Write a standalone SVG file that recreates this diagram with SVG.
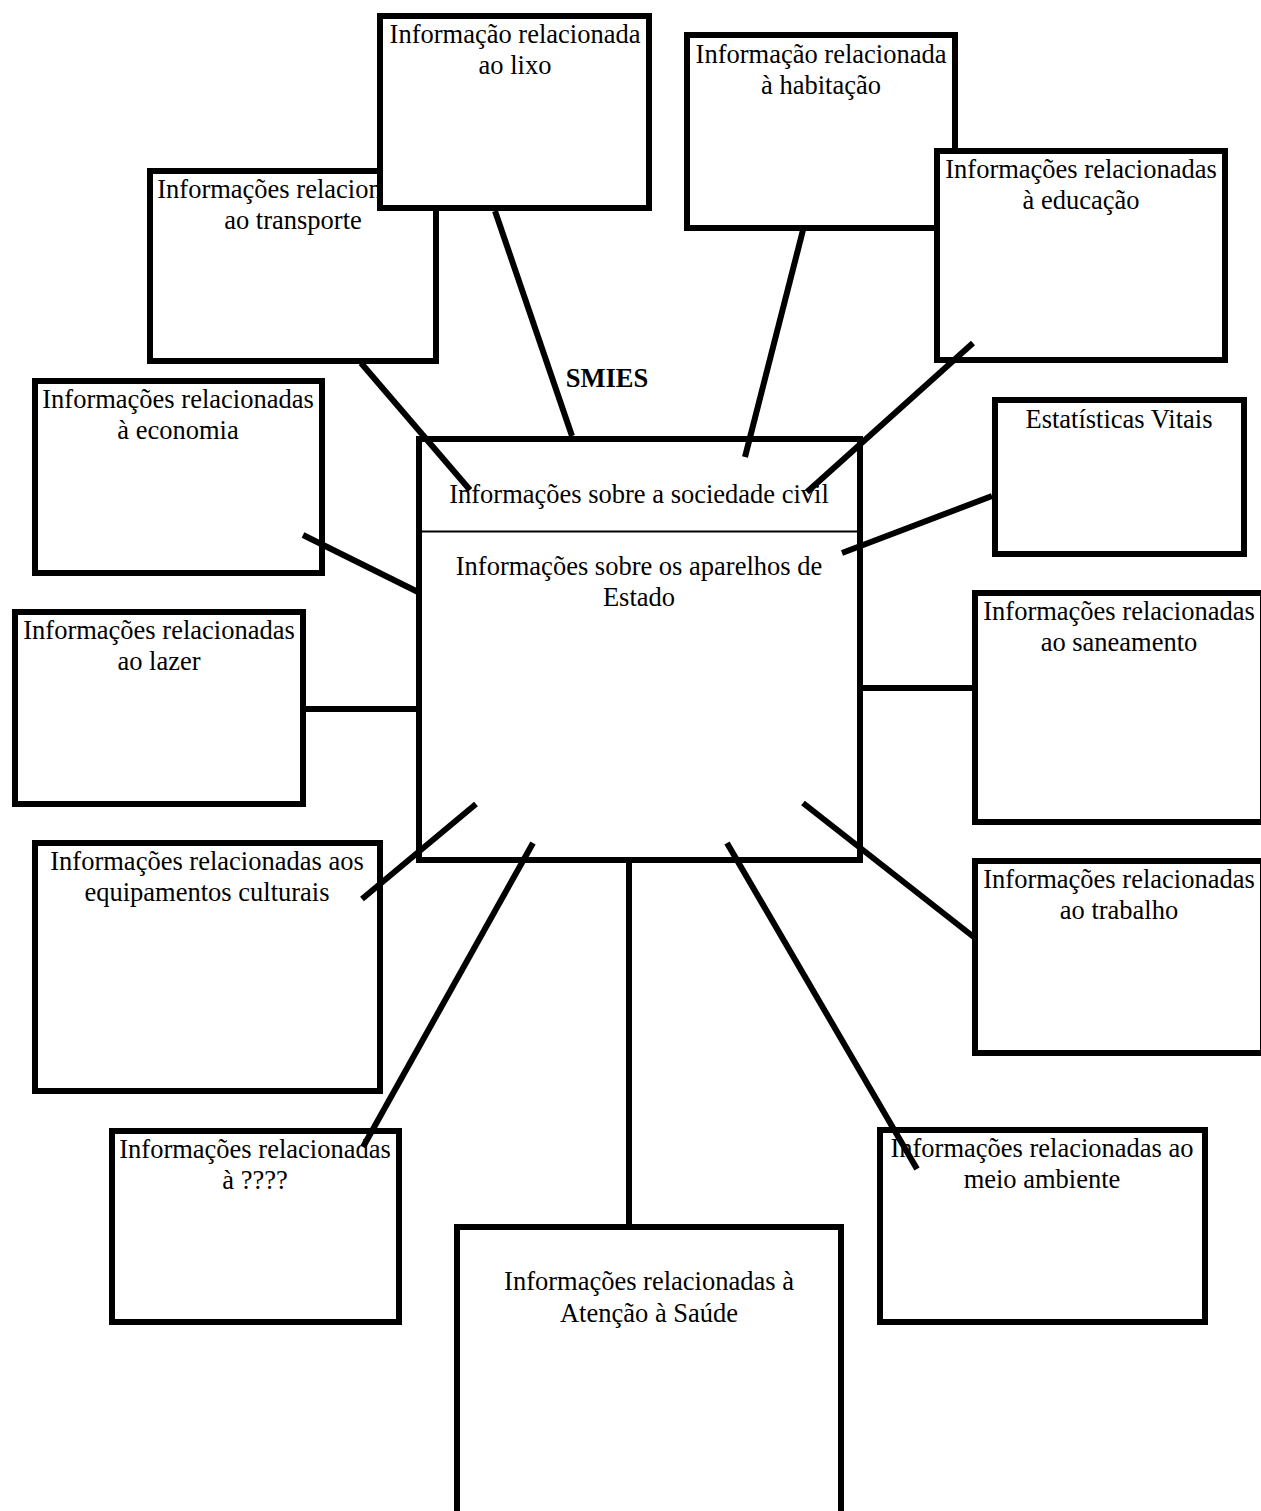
<svg xmlns="http://www.w3.org/2000/svg" width="1261" height="1511" viewBox="0 0 1261 1511">
<style>
.box{fill:#fff;stroke:#000;stroke-width:6}
.t{font-family:"Liberation Serif","Times New Roman",serif;font-size:26.5px;fill:#000;text-anchor:middle}
.b{font-weight:bold}
.c line{stroke:#000;stroke-width:6}
</style>
<rect width="1261" height="1511" fill="#fff"/>
<g id="n-transporte"><rect class="box" x="150" y="171" width="286" height="190"/><text class="t" x="293" y="198">Informações relacionadas</text><text class="t" x="293" y="229">ao transporte</text></g>
<g id="n-lixo"><rect class="box" x="380" y="16" width="269" height="192"/><text class="t" x="515" y="43">Informação relacionada</text><text class="t" x="515" y="74">ao lixo</text></g>
<g id="n-habitacao"><rect class="box" x="687" y="35" width="268" height="193"/><text class="t" x="821" y="63">Informação relacionada</text><text class="t" x="821" y="94">à habitação</text></g>
<g id="n-educacao"><rect class="box" x="937" y="151" width="288" height="209"/><text class="t" x="1081" y="178">Informações relacionadas</text><text class="t" x="1081" y="209">à educação</text></g>
<g id="n-economia"><rect class="box" x="35" y="381" width="287" height="192"/><text class="t" x="178" y="408">Informações relacionadas</text><text class="t" x="178" y="439">à economia</text></g>
<g id="n-lazer"><rect class="box" x="15" y="612" width="288" height="192"/><text class="t" x="159" y="639">Informações relacionadas</text><text class="t" x="159" y="670">ao lazer</text></g>
<g id="n-estatisticas"><rect class="box" x="995" y="400" width="249" height="154"/><text class="t" x="1119" y="428">Estatísticas Vitais</text></g>
<g id="n-saneamento"><rect class="box" x="975" y="593" width="288" height="229"/><text class="t" x="1119" y="620">Informações relacionadas</text><text class="t" x="1119" y="651">ao saneamento</text></g>
<g id="n-trabalho"><rect class="box" x="975" y="861" width="288" height="192"/><text class="t" x="1119" y="888">Informações relacionadas</text><text class="t" x="1119" y="919">ao trabalho</text></g>
<g id="n-equipamentos"><rect class="box" x="35" y="843" width="345" height="248"/><text class="t" x="207" y="870">Informações relacionadas aos</text><text class="t" x="207" y="901">equipamentos culturais</text></g>
<g id="n-outra"><rect class="box" x="112" y="1131" width="287" height="191"/><text class="t" x="255" y="1158">Informações relacionadas</text><text class="t" x="255" y="1189">à ????</text></g>
<g id="n-meioambiente"><rect class="box" x="880" y="1130" width="325" height="192"/><text class="t" x="1042" y="1157">Informações relacionadas ao</text><text class="t" x="1042" y="1188">meio ambiente</text></g>
<g id="n-saude"><rect class="box" x="457" y="1227" width="384" height="400"/><text class="t" x="649" y="1290">Informações relacionadas à</text><text class="t" x="649" y="1322">Atenção à Saúde</text></g>
<g id="n-centro"><rect class="box" x="419" y="439" width="441" height="421"/><line x1="419" y1="531.5" x2="860" y2="531.5" stroke="#000" stroke-width="2"/><text class="t" x="639" y="503">Informações sobre a sociedade civil</text><text class="t" x="639" y="575">Informações sobre os aparelhos de</text><text class="t" x="639" y="606">Estado</text></g>
<g id="smies"><text class="t b" x="607" y="387">SMIES</text></g>
<g id="connectors" class="c">
<line x1="361" y1="363" x2="470" y2="490"/>
<line x1="495" y1="211" x2="572" y2="436"/>
<line x1="803" y1="230" x2="745" y2="457"/>
<line x1="973" y1="343" x2="807" y2="492"/>
<line x1="992" y1="496" x2="842" y2="553"/>
<line x1="303" y1="535" x2="418" y2="592"/>
<line x1="306" y1="709" x2="418" y2="709"/>
<line x1="862" y1="688" x2="974" y2="688"/>
<line x1="803" y1="803" x2="975" y2="938"/>
<line x1="476" y1="804" x2="362" y2="899"/>
<line x1="533" y1="843" x2="363" y2="1147"/>
<line x1="629" y1="862" x2="629" y2="1226"/>
<line x1="727" y1="843" x2="917" y2="1169"/>
</g>
</svg>
